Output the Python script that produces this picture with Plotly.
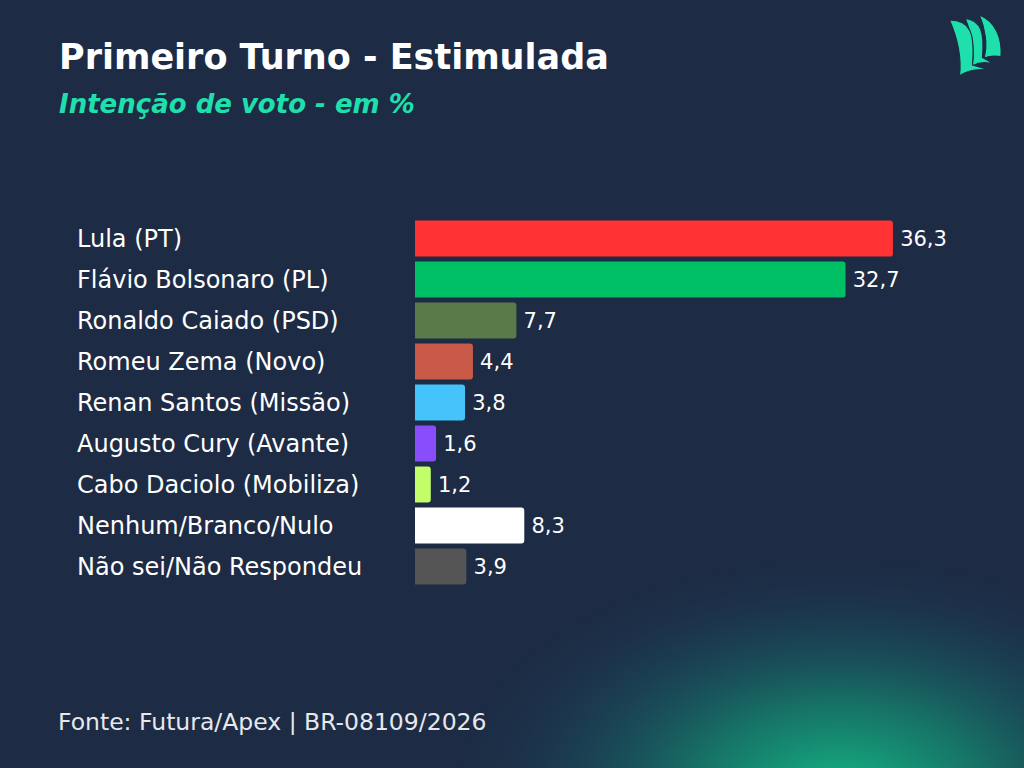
import urllib.parse

import plotly.graph_objects as go

# dados
candidatos = [
    "Lula (PT)",
    "Flávio Bolsonaro (PL)",
    "Ronaldo Caiado (PSD)",
    "Romeu Zema (Novo)",
    "Renan Santos (Missão)",
    "Augusto Cury (Avante)",
    "Cabo Daciolo (Mobiliza)",
    "Nenhum/Branco/Nulo",
    "Não sei/Não Respondeu",
]
votos = [36.3, 32.7, 7.7, 4.4, 3.8, 1.6, 1.2, 8.3, 3.9]
cores = ["#ff3333", "#00c066", "#5a7a4a", "#c95a48", "#45c3fb",
         "#8a4dfc", "#c2fd6a", "#ffffff", "#555555"]

titulo = "Primeiro Turno - Estimulada"
subtitulo = "Intenção de voto - em %"
fonte = "Fonte: Futura/Apex | BR-08109/2026"

BG = "#1d2b45"
VERDE = "#1fe0ac"
FONT = "DejaVu Sans"

# area do grafico em pixels
L, W = 415, 553
T, H = 218, 369


def px(x):
    return (x - L) / W


def py(y):
    return (T + H - y) / H


def svg_uri(svg):
    return "data:image/svg+xml;charset=utf-8," + urllib.parse.quote(svg)


brilho = (
    "<svg xmlns='http://www.w3.org/2000/svg' width='400' height='300'>"
    "<defs><radialGradient id='g' cx='0.5' cy='0.5' r='0.5'>"
    "<stop offset='0' stop-color='#14b886' stop-opacity='1'/>"
    "<stop offset='0.35' stop-color='#139a78' stop-opacity='0.65'/>"
    "<stop offset='0.7' stop-color='#16606a' stop-opacity='0.28'/>"
    "<stop offset='1' stop-color='#1d2b45' stop-opacity='0'/>"
    "</radialGradient></defs>"
    "<rect width='400' height='300' fill='url(#g)'/></svg>"
)

# logo: tres velas (de tras para frente)
logo = (
    "<svg xmlns='http://www.w3.org/2000/svg' width='94' height='100' viewBox='0 0 94 100'>"
    "<g fill='%s' stroke='%s' stroke-width='1.2' stroke-linejoin='round'>"
    "<path d='M49.3 15 C55 28 58 45 54 58 Q62 55 71 56.7 "
    "C72.5 38 65 21 49.3 15 Z'/>"
    "<path d='M35 18.3 C41 32 45 50 42 66 Q53 60 66 65 L52.5 57.5 "
    "C54.5 34 52 20 35 18.3 Z'/>"
    "<path d='M19.5 20 C26 35 32 55 29.5 76 Q42 67 61 70.5 L42.5 65 "
    "C45 34 41 20 19.5 20 Z'/>"
    "</g></svg>" % (VERDE, BG)
)

fig = go.Figure()

fig.add_trace(
    go.Bar(
        x=votos,
        y=candidatos,
        orientation="h",
        marker=dict(color=cores, line=dict(width=0)),
        text=votos,
        texttemplate="\u2009%{x:.1f}",
        textposition="outside",
        textfont=dict(color="white", size=21, family=FONT),
        cliponaxis=False,
        hoverinfo="skip",
    )
)

anots = []
for c in candidatos:
    anots.append(dict(
        x=px(75), xref="paper", xanchor="left",
        y=c, yref="y", yanchor="middle",
        text=c, showarrow=False,
        font=dict(color="white", size=24, family=FONT),
    ))

anots += [
    dict(x=px(57), y=py(57), xref="paper", yref="paper",
         xanchor="left", yanchor="middle", showarrow=False,
         text="<b>%s</b>" % titulo,
         font=dict(color="white", size=35, family=FONT)),
    dict(x=px(57), y=py(104), xref="paper", yref="paper",
         xanchor="left", yanchor="middle", showarrow=False,
         text="<b><i>%s</i></b>" % subtitulo,
         font=dict(color=VERDE, size=26, family=FONT)),
    dict(x=px(56), y=py(722), xref="paper", yref="paper",
         xanchor="left", yanchor="middle", showarrow=False,
         text=fonte,
         font=dict(color="#e6e8ec", size=23.5, family=FONT)),
]

fig.update_layout(
    width=1024,
    height=768,
    margin=dict(l=L, r=1024 - L - W, t=T, b=768 - T - H, pad=0),
    paper_bgcolor=BG,
    plot_bgcolor="rgba(0,0,0,0)",
    separators=",.",
    showlegend=False,
    bargap=0.12,
    barcornerradius=3,
    xaxis=dict(range=[0, 42], visible=False, fixedrange=True),
    yaxis=dict(autorange="reversed", showticklabels=False, showgrid=False,
               zeroline=False, showline=False, ticks="", fixedrange=True),
    annotations=anots,
    images=[
        dict(source=svg_uri(brilho), xref="paper", yref="paper",
             x=px(430), y=py(545), sizex=(1250 - 430) / W, sizey=(1040 - 545) / H,
             xanchor="left", yanchor="top", sizing="stretch", layer="below"),
        dict(source=svg_uri(logo), xref="paper", yref="paper",
             x=px(930), y=py(0), sizex=94 / W, sizey=100 / H,
             xanchor="left", yanchor="top", sizing="stretch", layer="above"),
    ],
)

fig.write_html(
    "out.html",
    config=dict(displayModeBar=False),
    post_script="document.body.style.margin='0';"
                "document.body.style.background='%s';" % BG,
)
